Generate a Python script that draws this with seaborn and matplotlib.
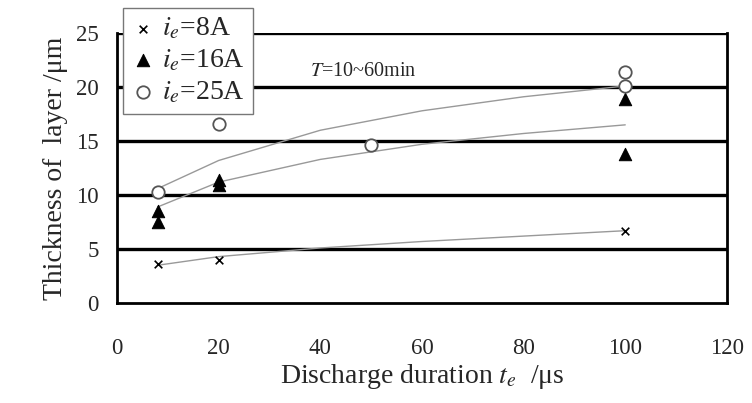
import numpy as np
import pandas as pd
import matplotlib
matplotlib.use("Agg")
import matplotlib.pyplot as plt
import seaborn as sns

# ---- data ----
x8 = [8, 20, 100]
y8 = [3.6, 4.0, 6.7]
x16 = [8, 8, 20, 20, 100, 100]
y16 = [7.5, 8.5, 10.9, 11.4, 18.9, 13.8]
x25 = [8, 20, 50, 100, 100]
y25 = [10.3, 16.6, 14.6, 20.1, 21.4]

trend_x = [8, 20, 40, 60, 80, 100]
trend8 = [3.5, 4.3, 5.1, 5.7, 6.2, 6.7]
trend16 = [8.9, 11.2, 13.3, 14.7, 15.7, 16.5]
trend25 = [10.6, 13.2, 16.0, 17.8, 19.1, 20.1]

labels = [r"$i_e$=8A", r"$i_e$=16A", r"$i_e$=25A"]
xticks = [0, 20, 40, 60, 80, 100, 120]
yticks = [0, 5, 10, 15, 20, 25]

sns.set_style("white")
plt.rcParams["font.family"] = ["Liberation Serif", "DejaVu Serif"]
plt.rcParams["mathtext.fontset"] = "stix"

fig = plt.figure(figsize=(7.52, 4.03), dpi=100)
ax = fig.add_axes([0.1556, 0.248, 0.811, 0.670])

# grid lines (horizontal)
for yv in yticks[1:]:
    ax.axhline(yv, color="black", lw=2.4, zorder=1)

# trend lines
tdf = pd.DataFrame({"x": trend_x * 3,
                    "y": trend8 + trend16 + trend25,
                    "s": ["a"] * 6 + ["b"] * 6 + ["c"] * 6})
for s in ["a", "b", "c"]:
    sns.lineplot(data=tdf[tdf.s == s], x="x", y="y", color="#999999",
                 lw=1.0, ax=ax, zorder=2, legend=False)

sns.scatterplot(x=x8, y=y8, marker="x", color="black", s=30,
                linewidth=1.2, ax=ax, zorder=3, label=labels[0])
sns.scatterplot(x=x16, y=y16, marker="^", color="black", s=80,
                edgecolor="black", ax=ax, zorder=3, label=labels[1])
sns.scatterplot(x=x25, y=y25, marker="o", facecolor="white", s=80,
                edgecolor="#555555", linewidth=1.3, ax=ax, zorder=3,
                label=labels[2])

ax.set_xlim(0, 120)
ax.set_ylim(0, 25)
ax.set_xticks(xticks)
ax.set_yticks(yticks)
ax.tick_params(axis="x", labelsize=16.5, pad=25, length=0)
ax.tick_params(axis="y", labelsize=16.5, pad=13, length=0)

for side in ["left", "bottom", "right"]:
    ax.spines[side].set_color("black")
    ax.spines[side].set_linewidth(2.0)
ax.spines["top"].set_visible(False)

ax.set_xlabel(r"Discharge duration $t_e$  /μs", fontsize=20, labelpad=2)
ax.set_ylabel("Thickness of  layer /μm", fontsize=20, labelpad=6)

ax.text(38, 21.4, r"$T$=10~60min", fontsize=14.5, va="center", ha="left")

leg = ax.legend(loc="upper left", bbox_to_anchor=(0.01, 1.093),
                borderaxespad=0, fontsize=20, frameon=True, fancybox=False,
                handletextpad=0.3, labelspacing=0.22, borderpad=0.3,
                handlelength=0.8)
leg.get_frame().set_edgecolor("#777777")
leg.get_frame().set_linewidth(1.0)
leg.get_frame().set_facecolor("white")
leg.get_frame().set_alpha(1)
leg.set_zorder(5)

fig.savefig("out.png", dpi=100)
